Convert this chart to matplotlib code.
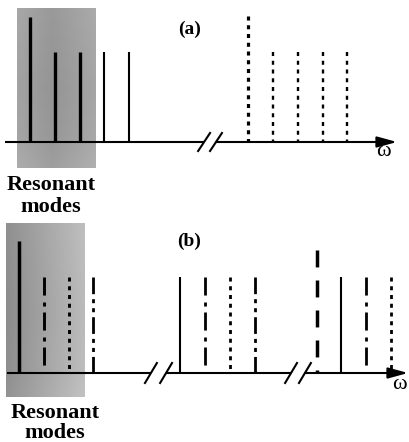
import numpy as np
import matplotlib.pyplot as plt

plt.rcParams['lines.scale_dashes'] = False
plt.rcParams['font.family'] = ['Liberation Serif', 'DejaVu Serif']

# panel (a): mode positions (in mode spacings) and relative heights
a_pos = [0, 1, 2, 3, 4, 8.8, 9.8, 10.8, 11.8, 12.8]
a_amp = [1.39, 1.0, 1.0, 1.0, 1.0, 1.4, 1.0, 1.0, 1.0, 1.0]
a_sty = ['solid'] * 5 + ['dot'] * 5
a_lw = [2.4, 2.4, 2.4, 1.5, 1.5, 2.3, 1.7, 1.7, 1.7, 1.7]
a_breaks = [7.02, 7.5]

# panel (b)
b_pos = [0, 1, 2, 3, 6.5, 7.5, 8.5, 9.5, 12, 13, 14, 15]
b_amp = [1.375, 1.0, 1.0, 1.0, 1.0, 1.0, 1.0, 1.0, 1.28, 1.0, 1.0, 1.0]
b_sty = ['solid', 'dashdot', 'dot', 'dashdotdot',
         'solid', 'dashdot', 'dot', 'dashdotdot',
         'dash', 'solid', 'dashdot', 'dot']
b_lw = [2.5, 2.1, 2.1, 2.0, 1.5, 2.0, 2.0, 2.0, 2.5, 1.5, 2.0, 2.0]
b_breaks = [[5.32, 5.93], [10.97, 11.53]]

styles = {
    'solid': '-',
    'dot': (0, (2.9, 3.4)),
    'dashdot': (0, (13, 5, 2.9, 4.3)),
    'dashdotdot': (0, (12, 3.6, 2.9, 3.6, 2.9, 3.6)),
    'dash': (0, (12.2, 9.4)),
}

fig = plt.figure(figsize=(4.09, 4.42), dpi=100)

# background layer in pixel units: shading and labels
bg = fig.add_axes([0, 0, 1, 1])
bg.axis('off')

yy, xx = np.mgrid[0:1:60j, 0:1:30j]
shade_a = 0.58 + 0.12 * np.abs(xx - 0.45) + 0.10 * np.clip(yy - 0.8, 0, 1) + 0.04 * np.abs(yy - 0.5)
shade_b = 0.55 + 0.18 * xx + 0.08 * np.clip(yy - 0.85, 0, 1) + 0.03 * np.abs(yy - 0.5)
bg.imshow(shade_a, cmap='gray', vmin=0, vmax=1, extent=(17, 96, 168, 8), aspect='auto')
bg.imshow(shade_b, cmap='gray', vmin=0, vmax=1, extent=(6, 85, 397, 223), aspect='auto')

lab = dict(ha='center', va='baseline', fontsize=16, fontweight='bold')
bg.text(51, 190.5, 'Resonant', **lab)
bg.text(51, 211.5, 'modes', **lab)
bg.text(55, 418, 'Resonant', **lab)
bg.text(55, 438, 'modes', **lab)
bg.text(190, 34, '(a)', ha='center', va='baseline', fontsize=14, fontweight='bold')
bg.text(189, 246, '(b)', ha='center', va='baseline', fontsize=14, fontweight='bold')
bg.text(383, 156, 'ω', ha='center', va='baseline', fontsize=16)
bg.text(399, 389, 'ω', ha='center', va='baseline', fontsize=16)
bg.set_xlim(0, 409)
bg.set_ylim(442, 0)


def panel(ax, pos, amp, sty, lws, breaks, x0, x1, bh):
    ax.axis('off')
    for p, h, s, w in zip(pos, amp, sty, lws):
        ax.plot([p, p], [h, 0], color='k', linestyle=styles[s],
                lw=w, solid_capstyle='butt', dash_capstyle='butt')
    # axis with breaks and arrow
    segs = [x0]
    for b in breaks:
        segs += [b[0], b[1]]
    for i in range(0, len(segs) - 1, 2):
        ax.plot([segs[i], segs[i + 1]], [0, 0], color='k', lw=1.5, solid_capstyle='butt')
    ax.annotate('', xy=(x1, 0), xytext=(segs[-1], 0),
                arrowprops=dict(arrowstyle='-|>,head_length=0.8,head_width=0.22',
                                mutation_scale=15, lw=1.5, color='k',
                                shrinkA=0, shrinkB=0))
    for b in breaks:
        for c in b:
            ax.plot([c - 0.24, c + 0.24], [-bh, bh], color='k', lw=1.5)


ax_a = fig.add_axes([0, 0.5, 1, 0.5])
ax_a.set_xlim(-30 / 24.8, 379 / 24.8)
ax_a.set_ylim(-79 / 90, 142 / 90)
ax_a.patch.set_alpha(0)
panel(ax_a, a_pos, a_amp, a_sty, a_lw, [a_breaks], -25 / 24.8, 367 / 24.8, 0.1)

ax_b = fig.add_axes([0, 0, 1, 0.5])
ax_b.set_xlim(-19 / 24.8, 390 / 24.8)
ax_b.set_ylim(-69 / 96, 152 / 96)
ax_b.patch.set_alpha(0)
panel(ax_b, b_pos, b_amp, b_sty, b_lw, b_breaks, -12 / 24.8, 389 / 24.8, 0.104)

fig.savefig('out.png', dpi=100)
